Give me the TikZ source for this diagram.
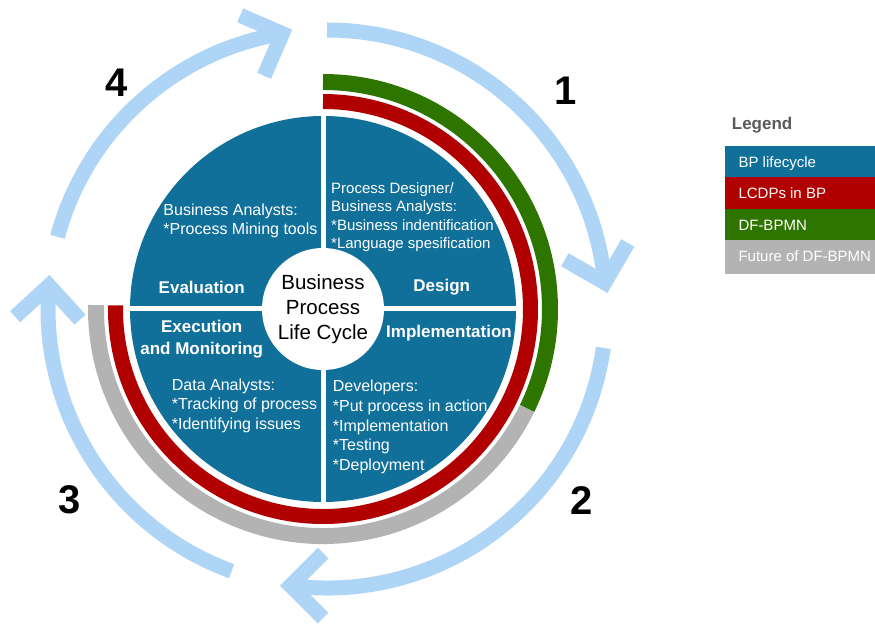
\documentclass[tikz,border=0pt]{standalone}
\usepackage{fontspec}
\setmainfont{Liberation Sans}
\usetikzlibrary{calc}
\definecolor{bpblue}{RGB}{17,112,154}
\definecolor{bpred}{RGB}{176,0,0}
\definecolor{bpgreen}{RGB}{46,117,0}
\definecolor{bpgrey}{RGB}{179,179,179}
\definecolor{arrowblue}{RGB}{174,213,246}
\definecolor{legendgrey}{RGB}{89,89,89}
\begin{document}
\begin{tikzpicture}[x=1pt,y=1pt,
  cyc/.style={arrowblue, line width=15pt, line cap=butt},
  head/.style={arrowblue, line width=15pt, line join=miter, line cap=butt},
  phase/.style={text=white, font=\fontsize{17}{21.6}\selectfont\bfseries, align=center, inner sep=0pt},
  role/.style={text=white, font=\fontsize{16}{19.5}\selectfont, align=left, anchor=west, inner sep=0pt},
  num/.style={font=\fontsize{40}{40}\selectfont\bfseries, inner sep=0pt},
  legtext/.style={text=white, font=\fontsize{15}{18}\selectfont, anchor=base west, inner sep=0pt}
]
\useasboundingbox (-323,-317) rectangle (552,309);

% disk
\fill[bpblue] (0,0) circle[radius=193];
\draw[white, line width=5pt] (0,-196) -- (0,196);
\draw[white, line width=5pt] (-196,0) -- (196,0);
\node[circle, fill=white, minimum size=122pt, inner sep=0pt, align=center,
      font=\fontsize{20.5}{25}\selectfont] (core) at (0,0) {Business\\Process\\Life Cycle};

% rings
\draw[bpred, line width=15pt] (90:207.5) arc[start angle=90, end angle=-181, radius=207.5];
\draw[bpgreen, line width=16pt] (90:227) arc[start angle=90, end angle=-26, radius=227];
\draw[bpgrey, line width=16pt] (-26:227) arc[start angle=-26, end angle=-181, radius=227];

% cycle arrows
\coordinate (bc) at (4,0);
\draw[cyc] ($(bc)+(90:279)$) arc[start angle=90, end angle=5.4, radius=279] coordinate (t1);
\draw[head] ([shift={(150:46)}]t1) -- (t1) -- ([shift={(60:46)}]t1);
\draw[cyc] ($(bc)+(-8:279)$) arc[start angle=-8, end angle=-97.5, radius=279] coordinate (t2);
\draw[head] ([shift={(45:46)}]t2) -- (t2) -- ([shift={(-45:46)}]t2);
\draw[cyc] ($(bc)+(-110:279)$) arc[start angle=-110, end angle=-184.8, radius=279] coordinate (t3);
\draw[head] ([shift={(-47.5:46)}]t3) -- (t3) -- ([shift={(-137.5:46)}]t3);
\draw[cyc] ($(bc)+(165:279)$) arc[start angle=165, end angle=99.2, radius=279] coordinate (t4);
\draw[head] ([shift={(246.6:46)}]t4) -- (t4) -- ([shift={(156.6:46)}]t4);

% phase labels
\node[phase] (evaluation) at (-121.3,21.7) {Evaluation};
\node[phase] (design) at (118.7,21.7) {Design};
\node[phase] (execution) at (-121.3,-30.3) {Execution\\and Monitoring};
\node[phase] (implementation) at (126,-24.3) {Implementation};

% role texts
\node[role, font=\fontsize{15}{18.1}\selectfont] (designroles) at (8,91.9)
  {Process Designer/\\Business Analysts:\\*Business indentification\\*Language spesification};
\node[role, font=\fontsize{16}{19}\selectfont] (evalroles) at (-159.7,88.4)
  {Business Analysts:\\*Process Mining tools};
\node[role] (execroles) at (-151.3,-96.6)
  {Data Analysts:\\*Tracking of process\\*Identifying issues};
\node[role, font=\fontsize{16}{19.6}\selectfont] (implroles) at (9.7,-117.9)
  {Developers:\\*Put process in action\\*Implementation\\*Testing\\*Deployment};

% numbers
\node[num] (n1) at (243,218) {1};
\node[num] (n2) at (258.7,-191.8) {2};
\node[num] (n3) at (-253.3,-191) {3};
\node[num] (n4) at (-206.3,226.5) {4};

% legend
\node[anchor=base west, inner sep=0pt, text=legendgrey, font=\fontsize{17}{20}\selectfont\bfseries] (legend) at (408.7,179.6) {Legend};
\fill[bpblue] (402,163) rectangle (552,132);
\fill[bpred] (402,132) rectangle (552,100);
\fill[bpgreen] (402,100) rectangle (552,69);
\fill[bpgrey] (402,69) rectangle (552,35);
\node[legtext] (l1) at (415.3,141.9) {BP lifecycle};
\node[legtext] (l2) at (415.3,110.3) {LCDPs in BP};
\node[legtext] (l3) at (415.3,78.6) {DF-BPMN};
\node[legtext] (l4) at (415.3,47.6) {Future of DF-BPMN};
\end{tikzpicture}
\end{document}
